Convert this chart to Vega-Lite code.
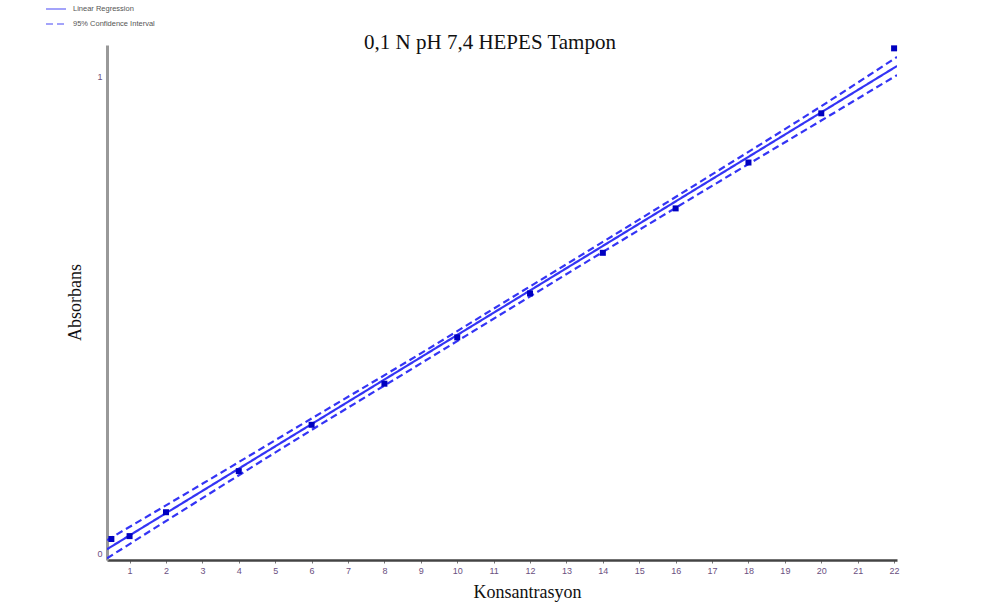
{
  "$schema": "https://vega.github.io/schema/vega-lite/v6.json",
  "autosize": {"type": "none"},
  "padding": {"left": 107, "top": 45, "right": 84, "bottom": 49},
  "width": 790,
  "height": 515,
  "background": "white",
  "config": {"view": {"stroke": null}},
  "title": {
    "text": "0,1 N pH 7,4 HEPES Tampon",
    "font": "Liberation Serif",
    "fontSize": 21,
    "fontWeight": "normal",
    "color": "#111",
    "anchor": "middle",
    "frame": "group",
    "baseline": "alphabetic",
    "offset": -72,
    "dx": -12
  },
  "encoding": {
    "x": {
      "field": "x", "type": "quantitative",
      "scale": {"domain": [0.38, 22.08], "nice": false, "zero": false},
      "axis": {
        "values": [1,2,3,4,5,6,7,8,9,10,11,12,13,14,15,16,17,18,19,20,21,22],
        "format": "d",
        "labelOverlap": false,
        "labelFlush": false,
        "labelSeparation": 0,
        "grid": false,
        "domainColor": "#444",
        "domainWidth": 2.5,
        "tickColor": "#777",
        "tickSize": 3,
        "labelFont": "Liberation Sans",
        "labelFontSize": 9,
        "labelColor": "#6b4f7f",
        "labelPadding": 3,
        "title": "Konsantrasyon",
        "titleFont": "Liberation Serif",
        "titleFontSize": 18,
        "titleFontWeight": "normal",
        "titleColor": "#111",
        "titleX": 420,
        "titleY": 32,
        "titleBaseline": "middle",
        "titleAlign": "center"
      }
    },
    "y": {
      "field": "y", "type": "quantitative",
      "scale": {"domain": [-0.013, 1.065], "nice": false, "zero": false},
      "axis": {
        "values": [0, 1],
        "format": "d",
        "labelFlush": false,
        "grid": false,
        "ticks": false,
        "domainColor": "#999",
        "domainWidth": 3,
        "labelFont": "Liberation Sans",
        "labelFontSize": 9,
        "labelColor": "#6b4f7f",
        "labelPadding": 5,
        "title": "Absorbans",
        "titleFont": "Liberation Serif",
        "titleFontSize": 18,
        "titleFontWeight": "normal",
        "titleColor": "#111",
        "titleX": -32,
        "titleY": 257,
        "titleAngle": -90,
        "titleBaseline": "middle",
        "titleAlign": "center"
      }
    }
  },
  "layer": [
    {
      "data": {"values": [
        {"x": 0.38, "y": 0.0095, "series": "Linear Regression", "part": "fit"},
        {"x": 22.08, "y": 1.021, "series": "Linear Regression", "part": "fit"},
        {"x": 0.38, "y": 0.0285, "series": "95% Confidence Interval", "part": "upper"},
        {"x": 3, "y": 0.1465, "series": "95% Confidence Interval", "part": "upper"},
        {"x": 6, "y": 0.2832, "series": "95% Confidence Interval", "part": "upper"},
        {"x": 9, "y": 0.4195, "series": "95% Confidence Interval", "part": "upper"},
        {"x": 11.2, "y": 0.5223, "series": "95% Confidence Interval", "part": "upper"},
        {"x": 14, "y": 0.6528, "series": "95% Confidence Interval", "part": "upper"},
        {"x": 17, "y": 0.7941, "series": "95% Confidence Interval", "part": "upper"},
        {"x": 20, "y": 0.9369, "series": "95% Confidence Interval", "part": "upper"},
        {"x": 22.08, "y": 1.040, "series": "95% Confidence Interval", "part": "upper"},
        {"x": 0.38, "y": -0.0095, "series": "95% Confidence Interval", "part": "lower"},
        {"x": 3, "y": 0.1165, "series": "95% Confidence Interval", "part": "lower"},
        {"x": 6, "y": 0.2592, "series": "95% Confidence Interval", "part": "lower"},
        {"x": 9, "y": 0.3985, "series": "95% Confidence Interval", "part": "lower"},
        {"x": 11.2, "y": 0.5013, "series": "95% Confidence Interval", "part": "lower"},
        {"x": 14, "y": 0.6318, "series": "95% Confidence Interval", "part": "lower"},
        {"x": 17, "y": 0.7701, "series": "95% Confidence Interval", "part": "lower"},
        {"x": 20, "y": 0.9069, "series": "95% Confidence Interval", "part": "lower"},
        {"x": 22.08, "y": 1.002, "series": "95% Confidence Interval", "part": "lower"}
      ]},
      "mark": {"type": "line", "strokeWidth": 2.2, "clip": true, "interpolate": "monotone"},
      "encoding": {
        "detail": {"field": "part"},
        "color": {
          "field": "series", "type": "nominal",
          "scale": {"domain": ["Linear Regression", "95% Confidence Interval"], "range": ["#3434f5", "#3434f5"]},
          "legend": {
            "orient": "none",
            "legendX": -62,
            "legendY": -47,
            "title": null,
            "symbolType": "stroke",
            "symbolSize": 400,
            "symbolStrokeWidth": 2,
            "symbolOpacity": 0.45,
            "labelFont": "Liberation Sans",
            "labelFontSize": 7.5,
            "labelColor": "#555",
            "labelOffset": 6,
            "rowPadding": -7,
            "padding": 0
          }
        },
        "strokeDash": {
          "field": "series", "type": "nominal",
          "scale": {"domain": ["Linear Regression", "95% Confidence Interval"], "range": [[1, 0], [7, 4]]},
          "legend": null
        }
      }
    },
    {
      "data": {"values": [
        {"x": 0.5, "y": 0.031},
        {"x": 1, "y": 0.037},
        {"x": 2, "y": 0.087},
        {"x": 4, "y": 0.173},
        {"x": 6, "y": 0.270},
        {"x": 8, "y": 0.356},
        {"x": 10, "y": 0.453},
        {"x": 12, "y": 0.545},
        {"x": 14, "y": 0.630},
        {"x": 16, "y": 0.723},
        {"x": 18, "y": 0.819},
        {"x": 20, "y": 0.922},
        {"x": 22, "y": 1.058}
      ]},
      "mark": {"type": "point", "shape": "square", "filled": true, "size": 36, "color": "#0000c0", "opacity": 1}
    }
  ]
}
